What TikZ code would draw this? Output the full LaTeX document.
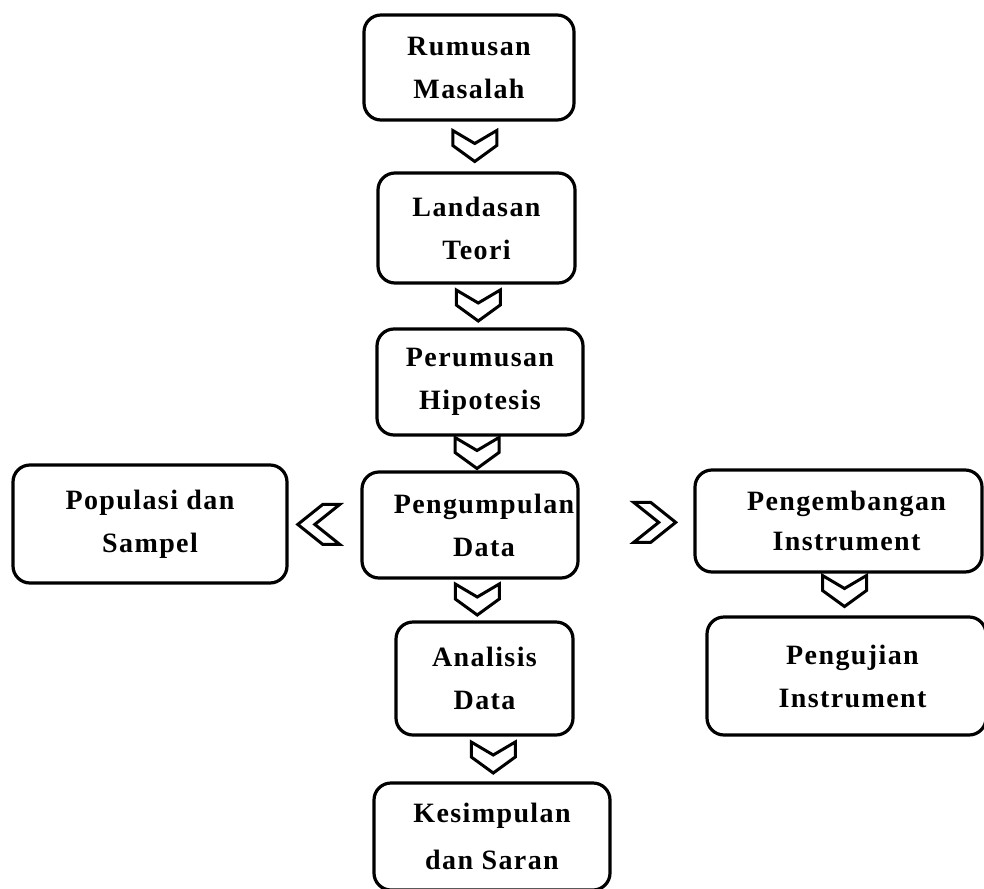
\documentclass[tikz,border=0pt]{standalone}
\usepackage{fontspec}
\newfontfamily\boxfont[LetterSpace=5]{Liberation Serif}
\usetikzlibrary{calc}
\newcommand{\rsh}[1]{\hspace*{#1pt}}
\tikzset{
  box/.style={draw, line width=3.2pt, rounded corners=17pt, align=center, inner sep=0pt,
    font=\boxfont\bfseries\fontsize{28}{43}\selectfont},
  chevdown/.pic={\draw[line width=3pt, line join=miter]
    (-22,-16) -- (0,-3) -- (22,-16) -- (22,-1) -- (0,15) -- (-22,-1) -- cycle;},
  chevleft/.pic={\draw[line width=3pt, line join=miter]
    (21,-20) -- (4,-20) -- (-21,0) -- (4,20) -- (21,20) -- (-4,0) -- cycle;},
  chevright/.pic={\draw[line width=3pt, line join=miter]
    (-21,-20) -- (-4,-20) -- (21,0) -- (-4,20) -- (-21,20) -- (4,0) -- cycle;},
}
\begin{document}
\begin{tikzpicture}[x=1pt,y=-1pt]
\useasboundingbox (0,0) rectangle (984,888);
\clip (0,0) rectangle (984,888);
\node[box, minimum width=210pt, minimum height=105pt] (rm) at (469,67.5) {Rumusan\\Masalah};
\node[box, minimum width=197pt, minimum height=110pt] (lt) at (476.5,228) {Landasan\\Teori};
\node[box, minimum width=206pt, minimum height=106pt] (ph) at (480,382) {Perumusan\\Hipotesis};
\node[box, minimum width=216pt, minimum height=106pt] (pk) at (470,525) {\rsh{28}Pengumpulan\\\rsh{28}Data};
\node[box, minimum width=274pt, minimum height=118pt] (pop) at (150,524) {Populasi dan\\Sampel};
\node[box, minimum width=287pt, minimum height=102pt, font=\boxfont\bfseries\fontsize{28}{40}\selectfont] (dev) at (838.5,521) {\rsh{16}Pengembangan\\\rsh{16}Instrument};
\node[box, minimum width=279pt, minimum height=118pt] (uji) at (846.5,676) {\rsh{12}Pengujian\\\rsh{12}Instrument};
\node[box, minimum width=177pt, minimum height=113pt] (an) at (484.5,678.5) {Analisis\\Data};
\node[box, minimum width=236pt, minimum height=107pt, font=\boxfont\bfseries\fontsize{28}{47}\selectfont] (ks) at (492,836.5) {Kesimpulan\\dan Saran};
\path ($(rm.south)!0.5!(lt.north)$) ++(2,0) pic {chevdown};
\path ($(lt.south)!0.5!(ph.north)$) pic {chevdown};
\path ($(ph.south)!0.5!(pk.north)$) ++(2,0) pic {chevdown};
\path ($(pk.south)!0.5!(an.north)$) pic {chevdown};
\path ($(an.south)!0.5!(ks.north)$) ++(5,-1) pic {chevdown};
\path ($(dev.south)!0.5!(uji.north)$) ++(2,-3) pic {chevdown};
\path ($(pop.east)!0.42!(pk.west)$) pic {chevleft};
\path ($(pk.east)!0.66!(dev.west)$) pic {chevright};
\end{tikzpicture}
\end{document}
